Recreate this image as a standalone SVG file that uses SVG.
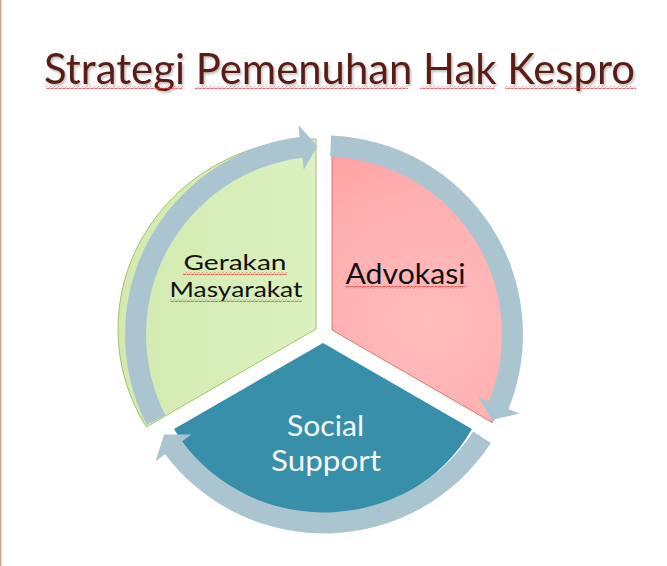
<svg xmlns="http://www.w3.org/2000/svg" width="667" height="566" viewBox="0 0 667 566">
  <defs>
    <style>
      .seg-text { font-family: Lato, "Open Sans", "Liberation Sans", sans-serif; text-anchor: middle; }
      .dark { fill: #111111; }
      .light { fill: #f4f8f9; }
      .arrow { fill: #aac4d0; stroke: none; }
      .squig { fill: url(#wave); }
    </style>
    <pattern id="wave" width="4" height="3" patternUnits="userSpaceOnUse">
      <path d="M0,2.2 L1,0.8 L3,2.4 L4,0.8" fill="none" stroke="#e2403c" stroke-width="0.8"/>
    </pattern>
    <linearGradient id="gGreen" x1="0" y1="0" x2="1" y2="0">
      <stop offset="0" stop-color="#d2eab0"/>
      <stop offset="1" stop-color="#dbf1bf"/>
    </linearGradient>
    <radialGradient id="gPink" gradientUnits="userSpaceOnUse" cx="430" cy="320" r="210">
      <stop offset="0" stop-color="#ffbcbc"/>
      <stop offset="0.6" stop-color="#ffb0b0"/>
      <stop offset="1" stop-color="#ff9c9c"/>
    </radialGradient>
    <filter id="shadow" x="-5%" y="-20%" width="110%" height="150%">
      <feDropShadow dx="1.5" dy="2" stdDeviation="1.2" flood-color="#000000" flood-opacity="0.25"/>
    </filter>
  </defs>

  <rect x="0" y="0" width="667" height="566" fill="#ffffff"/>
  <line x1="0.75" y1="0" x2="0.75" y2="566" stroke="#c9a98a" stroke-width="1.5"/>

  <g id="title">
    <text x="44" y="84" textLength="591" lengthAdjust="spacingAndGlyphs" font-family="Lato, 'Open Sans', 'Liberation Sans', sans-serif" font-size="43" fill="#5a1f15" filter="url(#shadow)">Strategi Pemenuhan Hak Kespro</text>
    <rect class="squig" x="46" y="86" width="137" height="3"/>
    <rect class="squig" x="195" y="86" width="213" height="3"/>
    <rect class="squig" x="420" y="86" width="75" height="3"/>
    <rect class="squig" x="505" y="86" width="131" height="3"/>
  </g>

  <g id="node-gerakan">
    <path d="M316,329 L316,139 A198,190 0 0,0 146.3,426.95 Z" fill="url(#gGreen)" stroke="#a3c26a" stroke-width="1"/>
    <text class="seg-text dark" x="235" y="269.5" font-size="21.5" textLength="103" lengthAdjust="spacingAndGlyphs">Gerakan</text>
    <text class="seg-text dark" x="236" y="297" font-size="21.5" textLength="133" lengthAdjust="spacingAndGlyphs">Masyarakat</text>
    <rect class="squig" x="183" y="272" width="104" height="3"/>
    <rect class="squig" x="170" y="299" width="132" height="3"/>
  </g>

  <g id="node-advokasi">
    <path d="M332,330 L332,145 A185,185 0 0,1 492.2,422.5 Z" fill="url(#gPink)" stroke="#de7474" stroke-width="1"/>
    <text class="seg-text dark" x="405.5" y="284" font-size="29" textLength="120" lengthAdjust="spacingAndGlyphs">Advokasi</text>
    <rect class="squig" x="345" y="286" width="120" height="3"/>
  </g>

  <g id="node-social">
    <path d="M323,343 L471.96,429 A172,172 0 0,1 174.04,429 Z" fill="#388fa9"/>
    <text class="seg-text light" x="325.5" y="436" font-size="29" textLength="77" lengthAdjust="spacingAndGlyphs">Social</text>
    <text class="seg-text light" x="326" y="471" font-size="29" textLength="110" lengthAdjust="spacingAndGlyphs">Support</text>
  </g>

  <g id="connectors">
    <path class="arrow" d="M146.7,424.85 A199,199 0 0,1 299.75,136.98 L298.29,125.07 L317.42,146.11 L303.77,169.74 L302.31,157.83 A178,178 0 0,0 165.4,415.3 Z"/>
    <path class="arrow" d="M330.94,135.62 A199,199 0 0,1 508.51,409.05 L519.64,413.54 L491.96,420.08 L477.91,396.69 L489.04,401.18 A178,178 0 0,0 330.21,156.61 Z"/>
    <path class="arrow" d="M490.9,442.88 A199,199 0 0,1 165.07,454.26 L155.49,461.48 L164.14,434.39 L191.43,434.4 L181.84,441.62 A178,178 0 0,0 473.28,431.45 Z"/>
  </g>
</svg>
